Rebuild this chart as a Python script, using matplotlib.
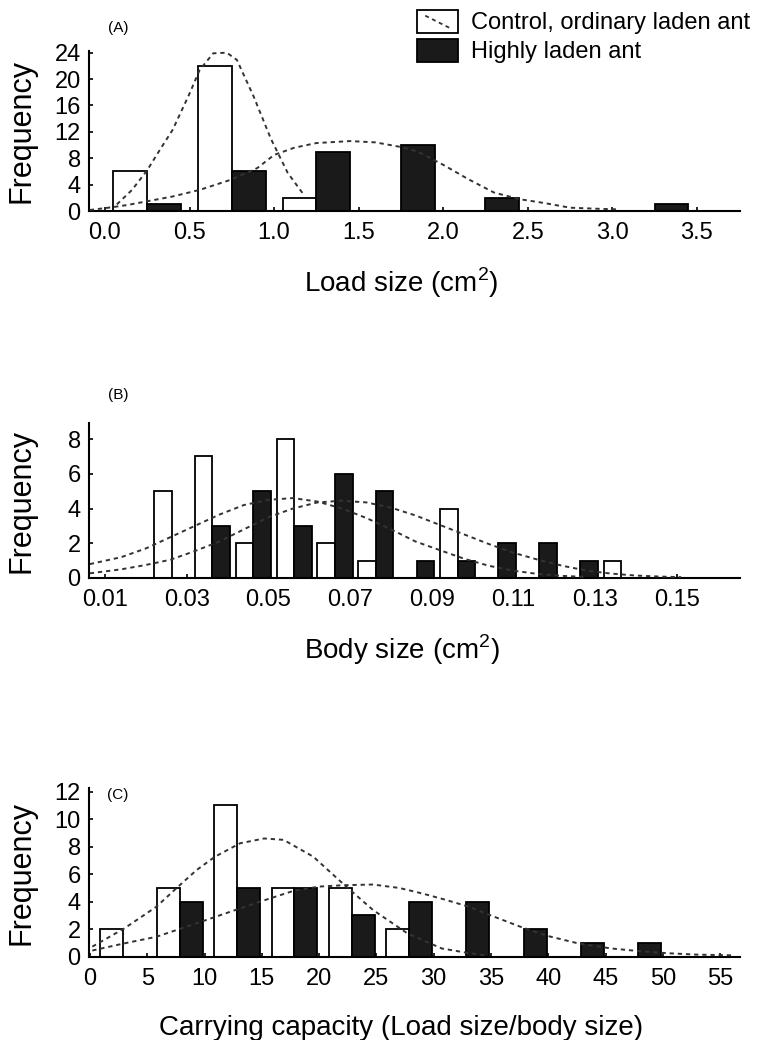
import matplotlib
matplotlib.use("Agg")
import matplotlib.pyplot as plt
from matplotlib.patches import Rectangle
from matplotlib.lines import Line2D
from matplotlib.legend_handler import HandlerBase

plt.rcParams['font.family'] = ['Liberation Sans', 'DejaVu Sans']
plt.rcParams['mathtext.fontset'] = 'custom'
plt.rcParams['mathtext.rm'] = 'Liberation Sans'

# ---- panel A: load size ----
a_edges = [0.25, 0.75, 1.25, 1.75, 2.25, 2.75, 3.25]
a_control = [6, 22, 2, 0, 0, 0, 0]
a_laden = [1, 6, 9, 10, 2, 0, 1]
a_curve_c_x = [0.07, 0.16, 0.25, 0.33, 0.40, 0.50, 0.56, 0.64, 0.72, 0.78, 0.88, 0.98, 1.08, 1.18]
a_curve_c_y = [1.0, 3.2, 6.2, 9.5, 12.3, 17.8, 21.4, 23.9, 24.0, 22.9, 17.3, 11.0, 5.8, 2.3]
a_curve_l_x = [-0.09, 0.05, 0.13, 0.40, 0.56, 0.74, 0.90, 1.0, 1.12, 1.25, 1.45, 1.6, 1.75,
               1.85, 2.0, 2.15, 2.3, 2.45, 2.6, 2.75, 2.9, 3.03]
a_curve_l_y = [0.15, 0.6, 0.9, 2.2, 3.2, 4.7, 6.5, 8.5, 9.6, 10.3, 10.6, 10.4, 9.7,
               9.0, 7.0, 4.8, 2.8, 1.8, 1.2, 0.5, 0.35, 0.25]
a_xticks = [0.0, 0.5, 1.0, 1.5, 2.0, 2.5, 3.0, 3.5]
a_xticklabels = ['0.0', '0.5', '1.0', '1.5', '2.0', '2.5', '3.0', '3.5']
a_yticks = [0, 4, 8, 12, 16, 20, 24]

# ---- panel B: body size ----
b_edges = [0.0263, 0.0363, 0.0463, 0.0563, 0.0663, 0.0763, 0.0863, 0.0963, 0.1063, 0.1163, 0.1263, 0.1363]
b_control = [5, 7, 2, 8, 2, 1, 0, 4, 0, 0, 0, 1]
b_laden = [0, 3, 5, 3, 6, 5, 1, 1, 2, 2, 1, 0]
b_curve_c_x = [0.0063, 0.014, 0.020, 0.026, 0.032, 0.038, 0.044, 0.050, 0.056, 0.062, 0.068,
               0.074, 0.080, 0.086, 0.092, 0.098, 0.104, 0.110, 0.116, 0.122, 0.128]
b_curve_c_y = [0.8, 1.2, 1.7, 2.35, 3.0, 3.65, 4.2, 4.5, 4.6, 4.4, 4.0,
               3.45, 2.8, 2.1, 1.6, 1.1, 0.7, 0.42, 0.23, 0.12, 0.06]
b_curve_l_x = [0.0063, 0.014, 0.020, 0.026, 0.032, 0.038, 0.044, 0.050, 0.056, 0.062, 0.068,
               0.074, 0.080, 0.086, 0.092, 0.098, 0.104, 0.110, 0.116, 0.122, 0.128, 0.134,
               0.140, 0.146, 0.151]
b_curve_l_y = [0.27, 0.5, 0.75, 1.05, 1.55, 2.1, 2.8, 3.5, 4.0, 4.35, 4.45,
               4.35, 4.05, 3.6, 3.05, 2.5, 1.95, 1.45, 1.05, 0.7, 0.42, 0.25,
               0.14, 0.08, 0.05]
b_xticks = [0.01, 0.03, 0.05, 0.07, 0.09, 0.11, 0.13, 0.15]
b_xticklabels = ['0.01', '0.03', '0.05', '0.07', '0.09', '0.11', '0.13', '0.15']
b_yticks = [0, 2, 4, 6, 8]

# ---- panel C: carrying capacity ----
c_edges = [2.85, 7.85, 12.85, 17.85, 22.85, 27.85, 32.85, 37.85, 42.85, 47.85]
c_control = [2, 5, 11, 5, 5, 2, 0, 0, 0, 0]
c_laden = [0, 4, 5, 5, 3, 4, 4, 2, 1, 1]
c_curve_c_x = [0.2, 3.0, 5.8, 7.7, 9.3, 10.9, 13.1, 15.2, 16.9, 19.5, 22.1, 24.7, 27.7, 30.7, 32.8, 34.5]
c_curve_c_y = [0.73, 2.06, 3.64, 5.1, 6.3, 7.27, 8.25, 8.6, 8.5, 7.27, 5.3, 3.4, 1.7, 0.6, 0.3, 0.1]
c_curve_l_x = [0.2, 3.0, 5.8, 9.2, 12, 15.2, 17.8, 20, 22.1, 24.7, 27, 29, 31, 33, 35,
               37.5, 40, 42.7, 45.5, 48, 50.5, 53, 56]
c_curve_l_y = [0.45, 0.97, 1.45, 2.4, 3.2, 4.1, 4.8, 5.1, 5.2, 5.25, 5.0, 4.6, 4.15, 3.65, 3.0,
               2.2, 1.5, 0.95, 0.6, 0.4, 0.25, 0.15, 0.1]
c_xticks = [0, 5, 10, 15, 20, 25, 30, 35, 40, 45, 50, 55]
c_yticks = [0, 2, 4, 6, 8, 10, 12]

W, H = 759, 1040
fig = plt.figure(figsize=(W / 100, H / 100), dpi=100)


def ax_at(bottom_px, height_px):
    return fig.add_axes([89 / W, 1 - bottom_px / H, 651 / W, height_px / H])


class DiagHandler(HandlerBase):
    def create_artists(self, legend, orig_handle, xdescent, ydescent, width, height, fontsize, trans):
        r = Rectangle((-xdescent, -ydescent), width, height, facecolor='white',
                      edgecolor='black', lw=1.3, transform=trans)
        l = Line2D([-xdescent + 0.2 * width, -xdescent + 0.8 * width],
                   [-ydescent + 0.75 * height, -ydescent + 0.2 * height],
                   color='#333333', lw=1.3, ls=(0, (2.2, 2.0)), transform=trans)
        return [r, l]


def panel(ax, edges, control, laden, width, cx, cy, lx, ly, xlim, ylim,
          xticks, yticks, xticklabels, xlabel, tag, tag_y, xlabel_y):
    lefts = [e - width for e in edges]
    wbars = ax.bar(lefts, control, width=width, align='edge', facecolor='white',
                   edgecolor='black', linewidth=1.3, zorder=2)
    bbars = ax.bar(edges, laden, width=width, align='edge', facecolor='#1a1a1a',
                   edgecolor='black', linewidth=1.3, zorder=2)
    ax.plot(cx, cy, color='#333333', lw=1.4, ls=(0, (2.2, 2.0)), zorder=3)
    ax.plot(lx, ly, color='#333333', lw=1.4, ls=(0, (2.2, 2.0)), zorder=3)
    ax.set_xlim(*xlim)
    ax.set_ylim(*ylim)
    ax.set_xticks(xticks)
    ax.set_xticklabels(xticklabels)
    ax.set_yticks(yticks)
    for s in ['top', 'right']:
        ax.spines[s].set_visible(False)
    for s in ['left', 'bottom']:
        ax.spines[s].set_linewidth(1.5)
    ax.tick_params(axis='both', direction='in', length=3, width=1.2, labelsize=17)
    ax.tick_params(axis='x', pad=8)
    ax.tick_params(axis='y', pad=6)
    ax.set_ylabel('Frequency', fontsize=22, va='center')
    ax.yaxis.set_label_coords(-0.103, 0.5)
    ax.set_xlabel(xlabel, fontsize=20, va='center')
    ax.xaxis.set_label_coords(0.48, xlabel_y)
    fig.text(118 / W, 1 - tag_y / H, tag, fontsize=11, ha='center', va='center')
    return wbars, bbars


axA = ax_at(211, 160.3)
wA, bA = panel(axA, a_edges, a_control, a_laden, 0.2, a_curve_c_x, a_curve_c_y,
               a_curve_l_x, a_curve_l_y, (-0.0946, 3.755), (0, 24.3),
               a_xticks, a_yticks, a_xticklabels, 'Load size (cm$^2$)', '(A)', 28, -0.45)

axB = ax_at(578, 154.6)
panel(axB, b_edges, b_control, b_laden, 0.0043, b_curve_c_x, b_curve_c_y,
      b_curve_l_x, b_curve_l_y, (0.0061, 0.1654), (0, 8.9),
      b_xticks, b_yticks, b_xticklabels, 'Body size (cm$^2$)', '(B)', 395, -0.465)

axC = ax_at(956.7, 168.4)
panel(axC, c_edges, c_control, c_laden, 2.0, c_curve_c_x, c_curve_c_y,
      c_curve_l_x, c_curve_l_y, (-0.087, 56.74), (0, 12.25),
      c_xticks, c_yticks, [str(t) for t in c_xticks],
      'Carrying capacity (Load size/body size)', '(C)', 795, -0.423)

fig.legend([wA.patches[0], bA.patches[0]],
           ['Control, ordinary laden ant', 'Highly laden ant'],
           handler_map={wA.patches[0]: DiagHandler()},
           loc='upper left', bbox_to_anchor=(417 / W, 1 - 10 / H), frameon=False,
           fontsize=17, handlelength=1.75, handleheight=1.1, handletextpad=0.55,
           labelspacing=0.2, borderpad=0, borderaxespad=0)

fig.savefig('out.png', dpi=100)
